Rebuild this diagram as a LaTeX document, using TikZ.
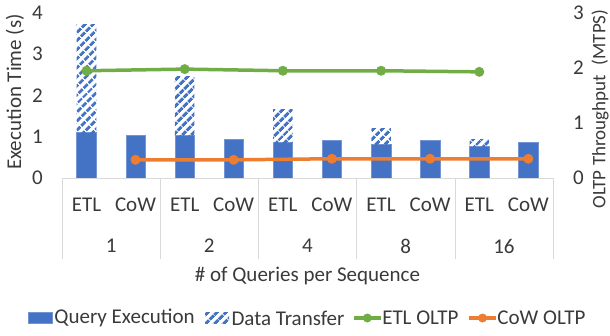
\documentclass[tikz,border=0pt]{standalone}
\usepackage{fontspec}
\setmainfont{Carlito}
\usepackage{xcolor}
\usepackage{tikz}
\usetikzlibrary{patterns.meta,positioning}
\definecolor{qblue}{HTML}{4472C4}
\definecolor{etlgreen}{HTML}{70AD47}
\definecolor{coworange}{HTML}{ED7D31}
\definecolor{gridgray}{HTML}{D9D9D9}
\definecolor{txtgray}{HTML}{3A3A3A}
\tikzstyle{qbar} = [fill=qblue, draw=qblue!75!white, line width=0.5pt]
\tikzstyle{xbar} = [pattern={Lines[angle=45,distance=6.5pt,line width=3.2pt]}, pattern color=qblue]
\tikzstyle{lbl} = [font=\fontsize{21}{24}\selectfont, text=txtgray, inner sep=0pt]
\tikzstyle{etlline} = [etlgreen, line width=3.5pt]
\tikzstyle{cowline} = [coworange, line width=3.5pt]

\begin{document}
\begin{tikzpicture}[x=1pt,y=1pt]
        \useasboundingbox (-62,-157) rectangle (548,178);
        % 41.25pt per second, 55pt per MTPS, 98.2pt per group

        % Define bars and category labels
        \foreach \g/\q/\tot/\c/\eo/\co [count=\i from 0] in
            {1/1.11/3.71/1.04/1.95/0.33,
             2/1.04/2.45/0.94/1.98/0.33,
             4/0.87/1.65/0.92/1.95/0.35,
             8/0.82/1.21/0.92/1.95/0.35,
             16/0.77/0.94/0.87/1.93/0.35} {
            \pgfmathsetmacro{\xe}{98.2*\i+24.5}
            \pgfmathsetmacro{\xc}{98.2*\i+73.5}
            \draw[gridgray] (98.2*\i,0) -- (98.2*\i,-81);
            \path[qbar] (\xe-9.75,0) rectangle (\xe+9.75,\q*41.25);
            \path[xbar] (\xe-9.75,\q*41.25) rectangle (\xe+9.75,\tot*41.25);
            \path[qbar] (\xc-9.75,0) rectangle (\xc+9.75,\c*41.25);
            \coordinate (etl\i) at (\xe,\eo*55);
            \coordinate (cow\i) at (\xc,\co*55);
            \node[lbl] (etllab\i) at (\xe,-27) {ETL};
            \node[lbl] (cowlab\i) at (\xc,-27) {CoW};
            \node[lbl] (grp\i) at (98.2*\i+49.1,-68) {\g};
        }
        \draw[gridgray] (491,0) -- (491,-81);
        \draw[gridgray] (0,0) -- (491,0);

        % OLTP lines
        \draw[etlline] (etl0) -- (etl1) -- (etl2) -- (etl3) -- (etl4);
        \draw[cowline] (cow0) -- (cow1) -- (cow2) -- (cow3) -- (cow4);
        \foreach \i in {0,...,4} {
            \fill[etlgreen] (etl\i) circle (5pt);
            \fill[coworange] (cow\i) circle (5pt);
        }

        % Axes
        \foreach \k in {0,...,4}
            \node[lbl, anchor=east] (ytick\k) at (-19,\k*41.25) {\k};
        \foreach \k in {0,...,3}
            \node[lbl, anchor=west] (ytwo\k) at (511,\k*55) {\k};
        \node[lbl, rotate=90] (ytitle) at (-47,86) {Execution Time (s)};
        \node[lbl, rotate=90, font=\fontsize{19}{22}\selectfont] (ytwotitle) at (538,69) {OLTP Throughput\hspace{0.3em} (MTPS)};
        \node[lbl] (xtitle) at (245.5,-98) {\# of Queries per Sequence};

        % Legend
        \node[qbar, minimum width=24pt, minimum height=11pt, inner sep=0pt] (legq) at (-22,-140) {};
        \node[lbl, right=2pt of legq] (legqtxt) {Query Execution};
        \node[xbar, minimum width=24pt, minimum height=11pt, inner sep=0pt, right=10pt of legqtxt] (legx) {};
        \node[lbl, right=2pt of legx] (legxtxt) {Data Transfer};
        \node[minimum width=27pt, minimum height=11pt, inner sep=0pt, right=9pt of legxtxt] (lege) {};
        \draw[etlline] (lege.west) -- (lege.east);
        \fill[etlgreen] (lege) circle (4.5pt);
        \node[lbl, right=1pt of lege] (legetxt) {ETL OLTP};
        \node[minimum width=27pt, minimum height=11pt, inner sep=0pt, right=10pt of legetxt] (legc) {};
        \draw[cowline] (legc.west) -- (legc.east);
        \fill[coworange] (legc) circle (4.5pt);
        \node[lbl, right=1pt of legc] (legctxt) {CoW OLTP};
\end{tikzpicture}
\end{document}
